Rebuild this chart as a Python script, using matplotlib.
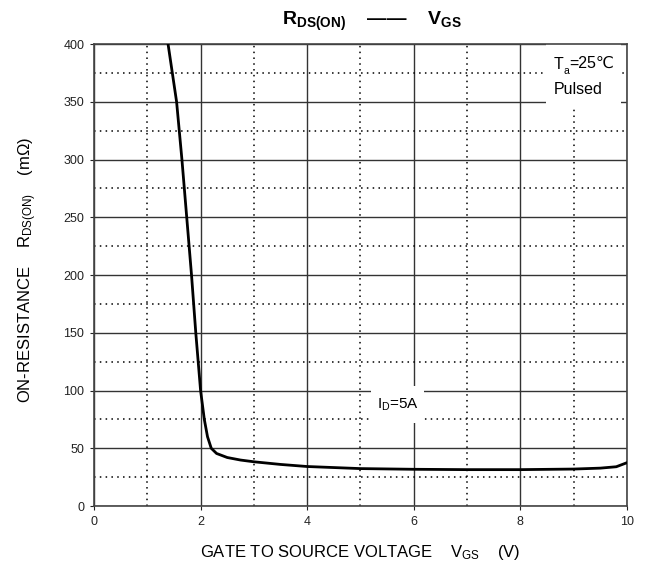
import matplotlib
matplotlib.use("Agg")
import matplotlib.pyplot as plt
from matplotlib.patches import Rectangle
from matplotlib.ticker import MultipleLocator

plt.rcParams['font.family'] = ['Liberation Sans', 'DejaVu Sans']
plt.rcParams['mathtext.fontset'] = 'custom'
plt.rcParams['mathtext.rm'] = 'Liberation Sans'
plt.rcParams['mathtext.it'] = 'Liberation Sans'
plt.rcParams['mathtext.bf'] = 'Liberation Sans:bold'

# curve: gate-source voltage (V) vs on-resistance (mOhm)
vgs = [1.39, 1.55, 1.65, 1.74, 1.83, 1.91, 2.00, 2.07, 2.13, 2.20, 2.30, 2.50,
       2.75, 3.0, 3.5, 4.0, 5.0, 6.0, 7.0, 8.0, 9.0, 9.5, 9.8, 10.0]
rds = [400, 350, 300, 250, 200, 150, 100, 75, 60, 50, 45.5, 42,
       39.8, 38.3, 36, 34.2, 32.4, 31.8, 31.5, 31.5, 32, 32.8, 34, 37.5]

xticks = [0, 2, 4, 6, 8, 10]
yticks = [0, 50, 100, 150, 200, 250, 300, 350, 400]

fig = plt.figure(figsize=(6.46, 5.66), dpi=100)
ax = fig.add_axes([0.1455, 0.106, 0.825, 0.816])

ax.set_xlim(0, 10)
ax.set_ylim(0, 400)
ax.set_xticks(xticks)
ax.set_yticks(yticks)
ax.xaxis.set_minor_locator(MultipleLocator(1))
ax.yaxis.set_minor_locator(MultipleLocator(25))
ax.grid(which='major', color='#333333', linestyle='-', linewidth=1.0)
ax.grid(which='minor', color='black', linestyle=(0, (1, 2.8)), linewidth=1.1)
ax.set_axisbelow(True)
ax.tick_params(which='major', length=3, width=0.8, labelsize=9, pad=4, colors='#222222')
ax.tick_params(which='minor', length=0)
for s in ax.spines.values():
    s.set_color('#444444')
    s.set_linewidth(1.2)

ax.plot(vgs, rds, color='black', linewidth=2.0, solid_capstyle='round', zorder=3)

# white label backgrounds that break the grid
ax.add_patch(Rectangle((5.2, 72), 1.0, 32, facecolor='white', edgecolor='none', zorder=2))
ax.add_patch(Rectangle((8.48, 345), 1.4, 55, facecolor='white', edgecolor='none', zorder=2))

ax.text(5.71, 88, r'I$_\mathrm{D}$=5A', fontsize=11, ha='center', va='center', zorder=4)

t1 = ax.text(8.62, 378.5, 'T', fontsize=11.5, ha='left', va='baseline', zorder=4)
t2 = ax.annotate('a', xy=(1, 0), xycoords=t1, xytext=(0.3, -1.5), textcoords='offset points',
                 fontsize=7.5, ha='left', va='baseline', zorder=4)
ax.annotate('=25\u2103', xy=(1, 0), xycoords=t2, xytext=(0, 3.5), textcoords='offset points',
            fontsize=11.5, ha='left', va='bottom', zorder=4,
            family=['Liberation Sans', 'DejaVu Sans'])
ax.text(8.62, 356.5, 'Pulsed', fontsize=11.5, ha='left', va='baseline', zorder=4)

title = r'$\mathbf{R_{DS(ON)}}$    ' + '\u2014\u2014' + r'    $\mathbf{V_{GS}}$'
fig.text(0.576, 0.962, title, fontsize=14, fontweight='bold', ha='center', va='center')

ax.set_xlabel(r'GATE TO SOURCE VOLTAGE    V$_\mathrm{GS}$    (V)', fontsize=12, va='top')
ax.xaxis.set_label_coords(0.5, -0.080)
ax.set_ylabel(r'ON-RESISTANCE    R$_\mathrm{DS(ON)}$    (m$\Omega$)', fontsize=12, va='center')
ax.yaxis.set_label_coords(-0.125, 0.51)

fig.savefig('out.png', dpi=100)
